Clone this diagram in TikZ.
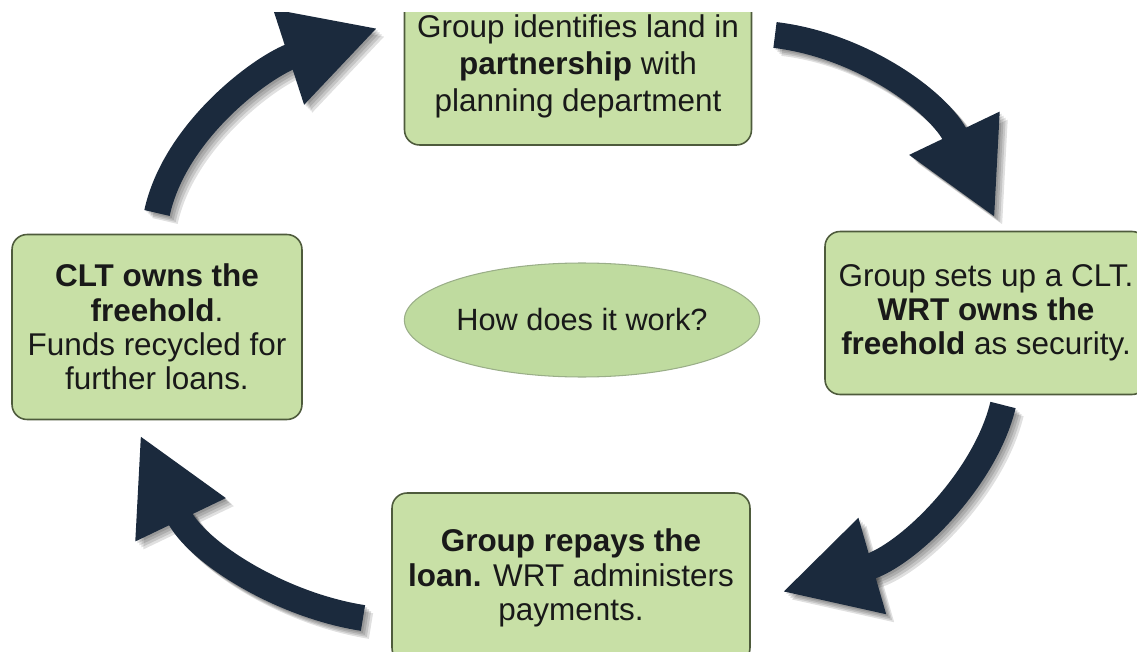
\documentclass[tikz,border=0pt]{standalone}
\usepackage{fontspec}
\setmainfont{Liberation Sans}
\usetikzlibrary{shapes.geometric, arrows.meta}
\definecolor{boxgreen}{HTML}{C8E0A6}
\definecolor{boxedge}{HTML}{4E5B3C}
\definecolor{hubgreen}{HTML}{BFDB9F}
\definecolor{hubedge}{HTML}{9AAE88}
\definecolor{navy}{HTML}{1B2A3D}
\tikzstyle{stage} = [
    rectangle,
    rounded corners=0.3cm,
    fill=boxgreen,
    draw=boxedge,
    line width=0.9pt,
    align=center,
    inner sep=2pt,
    text=black!90,
    font=\fontsize{17.9}{19.5}\selectfont
]
\tikzstyle{hub} = [
    ellipse,
    minimum width=6.4cm,
    minimum height=2.28cm,
    inner sep=0pt,
    fill=hubgreen,
    draw=hubedge,
    line width=0.6pt,
    text=black!90,
    font=\fontsize{17.5}{20.5}\selectfont
]
\tikzstyle{bigarrow} = [
    line width=0.52cm,
    draw=navy,
    -{Triangle[length=1.88cm,width=1.86cm]}
]
\tikzstyle{shade} = [
    line width=0.52cm,
    draw=black,
    opacity=0.12,
    -{Triangle[length=1.88cm,width=1.86cm]}
]

\begin{document}
\begin{tikzpicture}[x=0.02cm, y=-0.02cm]

\useasboundingbox (0,0) rectangle (1137,652);
\clip (0,13) rectangle (1137,652);

\node (ident) [stage, minimum width=6.94cm, minimum height=3.16cm,
    font=\fontsize{17.9}{21}\selectfont] at (578,66)
{Group identifies land in\\ \textbf{partnership} with\\ planning department};

\node (setup) [stage, minimum width=6.44cm, minimum height=3.26cm] at (986,313)
{Group sets up a CLT.\\ \textbf{WRT owns the}\\ \textbf{freehold} as security.};

\node (repay) [stage, minimum width=7.16cm, minimum height=3.4cm] at (571,578)
{\textbf{Group repays the}\\ \textbf{loan.} WRT administers\\ payments.};

\node (owns) [stage, minimum width=5.8cm, minimum height=3.7cm] at (157,327)
{\textbf{CLT owns the}\\ \textbf{freehold}.\\ Funds recycled for\\ further loans.};

\node (how) [hub] at (582,320) {How does it work?};

\coordinate (tailA) at (157,213);
\coordinate (tipA) at (378,28);
\coordinate (tailB) at (775,35);
\coordinate (tipB) at (995,218);
\coordinate (tailC) at (1003,405);
\coordinate (tipC) at (782,592);
\coordinate (tailD) at (363,618);
\coordinate (tipD) at (140,435);

\foreach \d in {2,4,6,8} {
    \draw [shade] ([shift={(\d,\d)}]tailA) .. controls +(18,-83) and +(-114,37) .. ([shift={(\d,\d)}]tipA);
    \draw [shade] ([shift={(\d,\d)}]tailB) .. controls +(85,10) and +(-56,-117) .. ([shift={(\d,\d)}]tipB);
    \draw [shade] ([shift={(\d,\d)}]tailC) .. controls +(-18,75) and +(125,-36) .. ([shift={(\d,\d)}]tipC);
    \draw [shade] ([shift={(\d,\d)}]tailD) .. controls +(-83,-13) and +(56,117) .. ([shift={(\d,\d)}]tipD);
}

\draw [bigarrow] (tailA) .. controls +(18,-83) and +(-114,37) .. (tipA);
\draw [bigarrow] (tailB) .. controls +(85,10) and +(-56,-117) .. (tipB);
\draw [bigarrow] (tailC) .. controls +(-18,75) and +(125,-36) .. (tipC);
\draw [bigarrow] (tailD) .. controls +(-83,-13) and +(56,117) .. (tipD);

\end{tikzpicture}
\end{document}
